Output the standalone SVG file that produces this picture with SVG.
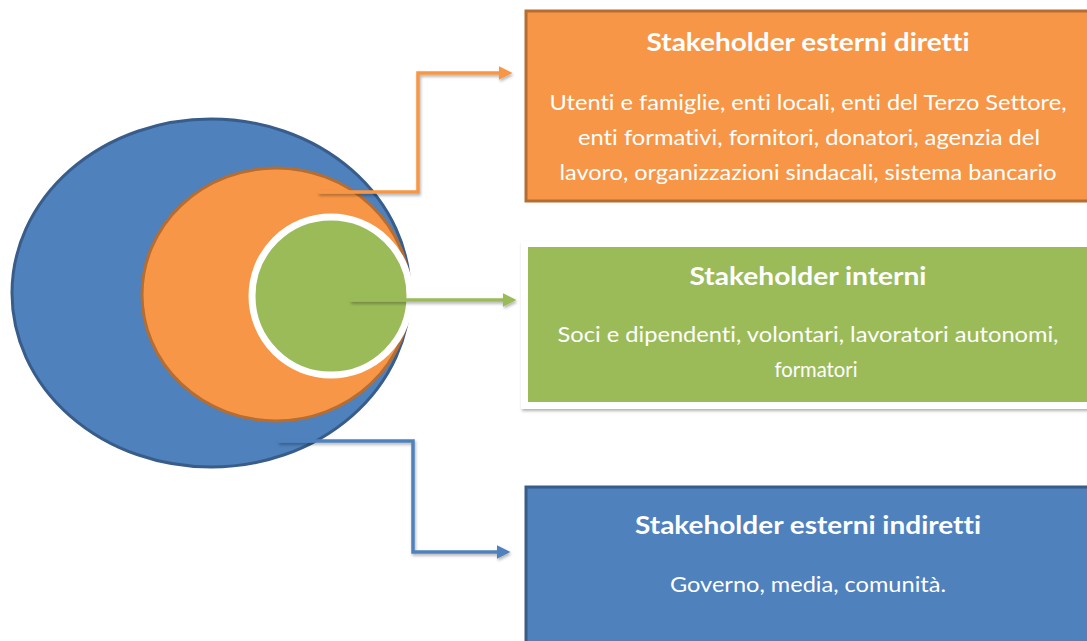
<svg xmlns="http://www.w3.org/2000/svg" width="1087" height="641" viewBox="0 0 1087 641">
<style>
.title{font-family:Lato,"Liberation Sans",sans-serif;font-weight:bold;font-size:25px;fill:#fff;text-anchor:middle;font-variant-ligatures:none}
.body{font-family:Lato,"Liberation Sans",sans-serif;font-size:21px;fill:#fff;text-anchor:middle;font-variant-ligatures:none}
.conn{fill:none;stroke-width:3.5}
</style>
<defs>
<filter id="sh" x="-10%" y="-10%" width="120%" height="130%">
<feDropShadow dx="1" dy="2" stdDeviation="1.5" flood-color="#000" flood-opacity="0.3"/>
</filter>
<marker id="ao" markerWidth="4" markerHeight="4" refX="3" refY="2" orient="auto" markerUnits="strokeWidth"><path d="M0,0 L4,2 L0,4 z" fill="#F79646"/></marker>
<marker id="ag" markerWidth="4" markerHeight="4" refX="3" refY="2" orient="auto" markerUnits="strokeWidth"><path d="M0,0 L4,2 L0,4 z" fill="#9BBB59"/></marker>
<marker id="ab" markerWidth="4" markerHeight="4" refX="3" refY="2" orient="auto" markerUnits="strokeWidth"><path d="M0,0 L4,2 L0,4 z" fill="#4F81BD"/></marker>
</defs>
<rect width="1087" height="641" fill="#fff"/>
<g id="circles">
<ellipse cx="211" cy="293" rx="199" ry="174" fill="#4F81BD" stroke="#385D8A" stroke-width="3"/>
<ellipse cx="276" cy="294.5" rx="134" ry="126.5" fill="#F79646" stroke="#B66D31" stroke-width="3"/>
<circle cx="331" cy="296" r="79" fill="#9BBB59" stroke="#fff" stroke-width="7"/>
</g>
<g id="connectors" filter="url(#sh)">
<polyline class="conn" stroke="#F79646" points="318,192 418,192 418,73 509,73" marker-end="url(#ao)"/>
<polyline class="conn" stroke="#9BBB59" points="350,300 513,300" marker-end="url(#ag)"/>
<polyline class="conn" stroke="#4F81BD" points="278,441 413,441 413,552 507,552" marker-end="url(#ab)"/>
</g>
<g id="box-diretti">
<rect x="526" y="11" width="570" height="190" fill="#F79646" stroke="#B66D31" stroke-width="3"/>
<text class="title" x="808" y="51" textLength="323" lengthAdjust="spacingAndGlyphs">Stakeholder esterni diretti</text>
<text class="body" x="808" y="110" textLength="517" lengthAdjust="spacingAndGlyphs">Utenti e famiglie, enti locali, enti del Terzo Settore,</text>
<text class="body" x="809" y="145" textLength="462" lengthAdjust="spacingAndGlyphs">enti formativi, fornitori, donatori, agenzia del</text>
<text class="body" x="808" y="180" textLength="497" lengthAdjust="spacingAndGlyphs">lavoro, organizzazioni sindacali, sistema bancario</text>
</g>
<g id="box-interni">
<rect x="521" y="241" width="580" height="168" fill="#fff" filter="url(#sh)"/>
<rect x="528" y="247" width="570" height="155" fill="#9BBB59"/>
<text class="title" x="808" y="285" textLength="237" lengthAdjust="spacingAndGlyphs">Stakeholder interni</text>
<text class="body" x="808" y="342" textLength="501" lengthAdjust="spacingAndGlyphs">Soci e dipendenti, volontari, lavoratori autonomi,</text>
<text class="body" x="816" y="377" textLength="83" lengthAdjust="spacingAndGlyphs">formatori</text>
</g>
<g id="box-indiretti">
<rect x="526" y="487" width="570" height="170" fill="#4F81BD" stroke="#385D8A" stroke-width="3"/>
<text class="title" x="808" y="534" textLength="346" lengthAdjust="spacingAndGlyphs">Stakeholder esterni indiretti</text>
<text class="body" x="808" y="592" textLength="276" lengthAdjust="spacingAndGlyphs">Governo, media, comunità.</text>
</g>
</svg>
